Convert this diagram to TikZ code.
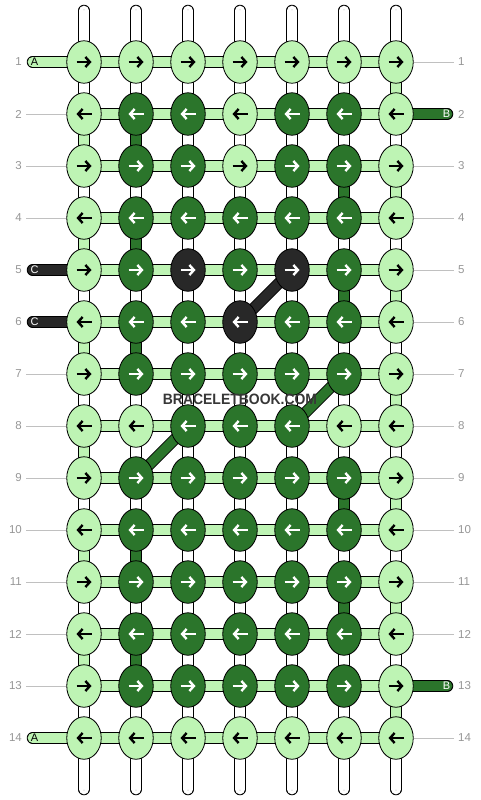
\documentclass[tikz,border=0pt]{standalone}
\usepackage{fontspec}
\setmainfont{Liberation Sans}
\usetikzlibrary{shapes.geometric,arrows.meta,backgrounds}

\definecolor{lightg}{RGB}{190,244,180}
\definecolor{darkg}{RGB}{43,117,43}
\definecolor{knotk}{RGB}{40,40,40}
\definecolor{labgray}{RGB}{150,150,150}
\definecolor{guidegray}{RGB}{192,192,192}
\definecolor{markgray}{RGB}{55,55,55}

\tikzset{
	knot/.style={ellipse, draw=black, line width=0.8pt, minimum width=34.5pt, minimum height=42.5pt, inner sep=0pt},
	kL/.style={knot, fill=lightg},
	kD/.style={knot, fill=darkg},
	kK/.style={knot, fill=knotk},
	aL/.style={draw=black},
	aD/.style={draw=white},
	aK/.style={draw=white},
	arw/.style={line width=2.4pt},
	goright/.style={-{Straight Barb[length=4.5pt,width=10pt]}},
	goleft/.style={{Straight Barb[length=4.5pt,width=10pt]}-},
	seg/.style={draw=black, line width=0.9pt, double distance=9.7pt, line cap=round},
	sW/.style={seg, double=white, postaction={draw=gray!55, line width=0.6pt, double=white, double distance=1.4pt}},
	sL/.style={seg, double=lightg},
	sD/.style={seg, double=darkg},
	sK/.style={seg, double=knotk},
	rowlab/.style={text=labgray, font=\fontsize{11.5}{11.5}\selectfont, inner xsep=4pt, inner ysep=0pt},
	guide/.style={draw=guidegray, line width=0.8pt},
	tablab/.style={font=\fontsize{11}{11}\selectfont, inner sep=0pt}
}

\begin{document}
\begin{tikzpicture}[x=1pt, y=-1pt]
	\useasboundingbox (0,0) rectangle (480,800);

	\foreach \r/\dd/\row in {1/goright/{L,L,L,L,L,L,L}, 2/goleft/{L,D,D,L,D,D,L}, 3/goright/{L,D,D,L,D,D,L}, 4/goleft/{L,D,D,D,D,D,L}, 5/goright/{L,D,K,D,K,D,L}, 6/goleft/{L,D,D,K,D,D,L}, 7/goright/{L,D,D,D,D,D,L}, 8/goleft/{L,L,D,D,D,L,L}, 9/goright/{L,D,D,D,D,D,L}, 10/goleft/{L,D,D,D,D,D,L}, 11/goright/{L,D,D,D,D,D,L}, 12/goleft/{L,D,D,D,D,D,L}, 13/goright/{L,D,D,D,D,D,L}, 14/goleft/{L,L,L,L,L,L,L}}
		\foreach \k [count=\c] in \row {
			\node[k\k] (k-\r-\c) at ({84+52*(\c-1)}, {62+52*(\r-1)}) {};
			\draw[arw, \dd, a\k] ([xshift=-7.5pt]k-\r-\c.center) -- ([xshift=7.5pt]k-\r-\c.center);
		}

	\foreach \r in {1,...,14} {
		\node[rowlab, anchor=east] (ln-\r) at (26, {62+52*(\r-1)}) {\r};
		\node[rowlab, anchor=west] (rn-\r) at (454, {62+52*(\r-1)}) {\r};
	}
	\foreach \r in {2,3,4,7,8,9,10,11,12,13}
		\draw[guide] (ln-\r) -- (k-\r-1);
	\foreach \r in {1,3,4,5,6,7,8,9,10,11,12,14}
		\draw[guide] (k-\r-7) -- (rn-\r);

	\foreach \r/\t/\tc in {1/A/black, 5/C/white, 6/C/white, 14/A/black} {
		\coordinate (te-\r) at (32.5, {62+52*(\r-1)});
		\node[tablab, text=\tc] (ta-\r) at (34.5, {62+52*(\r-1)}) {\t};
	}
	\foreach \r/\t/\tc in {2/B/white, 13/B/white} {
		\coordinate (te-\r) at (447.5, {62+52*(\r-1)});
		\node[tablab, text=\tc] (ta-\r) at (446.5, {62+52*(\r-1)}) {\t};
	}

	\node[font=\bfseries\fontsize{15}{15}\selectfont, text=markgray, xscale=0.93] (mark) at (240,399) {BRACELETBOOK.COM};

	\begin{pgfonlayer}{background}
		\foreach \c in {1,...,7} {
			\coordinate (top-\c) at ({84+52*(\c-1)}, 10.5);
			\coordinate (bot-\c) at ({84+52*(\c-1)}, 789.5);
			\draw[sW] (top-\c) -- (k-1-\c.center);
			\draw[sW] (k-14-\c.center) -- (bot-\c);
		}
		\foreach \r/\gap in {1/{W,W,W,W,W,W,L}, 2/{L,D,W,W,W,W,W}, 3/{W,W,W,W,W,D,L}, 4/{L,D,W,W,W,W,W}, 5/{W,W,W,W,W,D,L}, 6/{L,D,W,W,W,W,W}, 7/{W,W,W,W,W,W,L}, 8/{L,W,W,W,W,W,W}, 9/{W,W,W,W,W,D,L}, 10/{L,D,W,W,W,W,W}, 11/{W,W,W,W,W,D,L}, 12/{L,D,W,W,W,W,W}, 13/{W,W,W,W,W,W,L}}
			\foreach \s [count=\c] in \gap {
				\pgfmathtruncatemacro\n{\r+1}
				\draw[s\s] (k-\r-\c.center) -- (k-\n-\c.center);
			}
		\foreach \r in {1,...,14}
			\foreach \c in {1,...,6} {
				\pgfmathtruncatemacro\n{\c+1}
				\draw[sL] (k-\r-\c.center) -- (k-\r-\n.center);
			}

		\draw[sL] (te-1) -- (k-1-1.center);
		\draw[sK] (te-5) -- (k-5-1.center);
		\draw[sK] (te-6) -- (k-6-1.center);
		\draw[sL] (te-14) -- (k-14-1.center);
		\draw[sD] (k-2-7.center) -- (te-2);
		\draw[sD] (k-13-7.center) -- (te-13);

		\draw[sK] (k-5-5.center) -- (k-6-4.center);
		\draw[sD] (k-7-6.center) -- (k-8-5.center);
		\draw[sD] (k-8-3.center) -- (k-9-2.center);
	\end{pgfonlayer}
\end{tikzpicture}
\end{document}
